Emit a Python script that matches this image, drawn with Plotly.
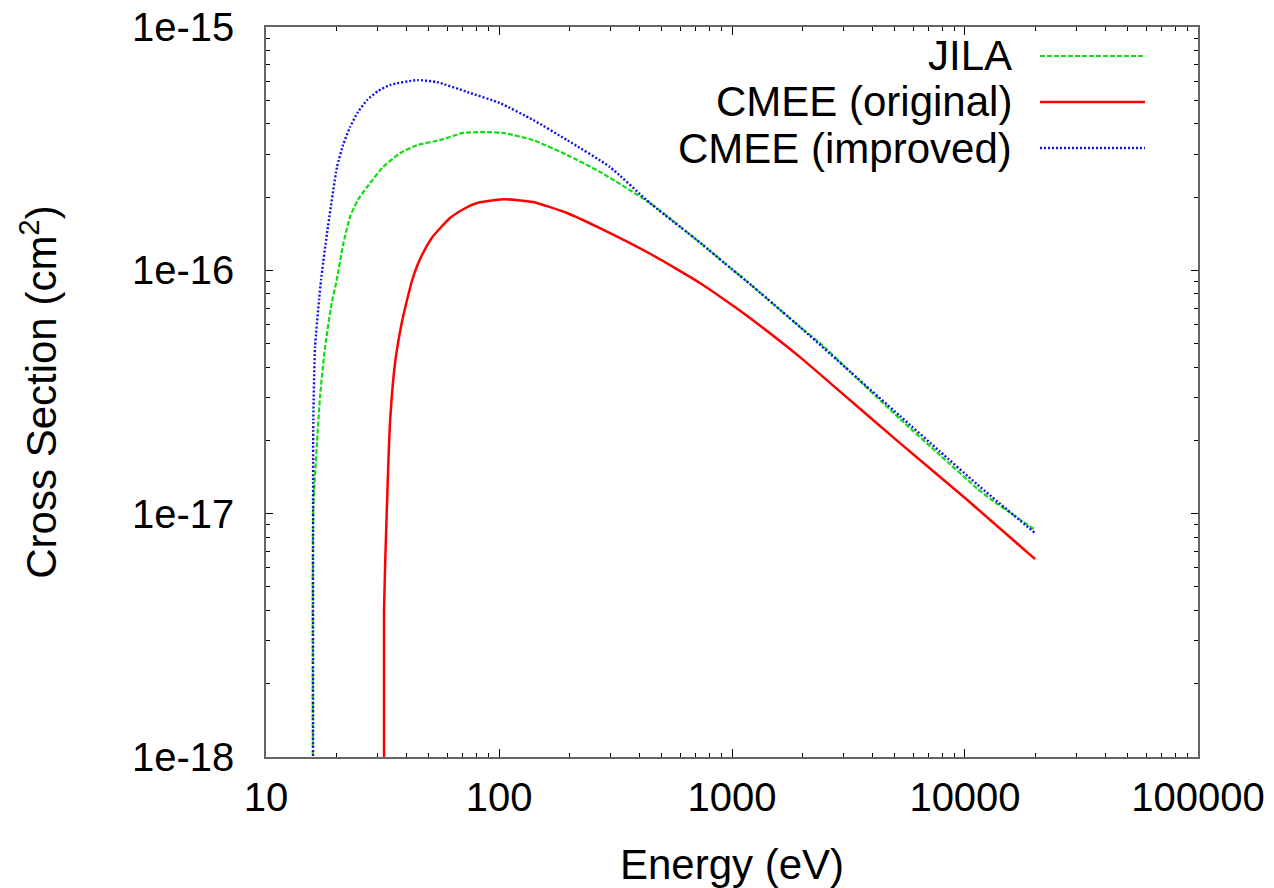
import plotly.graph_objects as go

# ---- data ----
jila_E = [15.96, 15.96, 16.51, 17.05, 17.92, 19.14, 20.11, 21.4, 22.94, 24.8, 27.14, 31.8, 37.6,
          44.46, 55.8, 70.1, 85.4, 104, 140, 196, 271, 445, 729, 1000, 1194, 1958, 2388, 3206,
          5260, 7810, 11270, 13000, 20000]
jila_s = [1e-19, 1.06e-17, 1.88e-17, 3.02e-17, 4.84e-17, 7.34e-17, 9.12e-17, 1.27e-16, 1.66e-16,
          1.95e-16, 2.20e-16, 2.66e-16, 3.03e-16, 3.27e-16, 3.43e-16, 3.67e-16, 3.70e-16,
          3.67e-16, 3.43e-16, 2.98e-16, 2.54e-16, 1.89e-16, 1.30e-16, 1.01e-16, 8.79e-17,
          5.85e-17, 5.02e-17, 3.84e-17, 2.45e-17, 1.74e-17, 1.27e-17, 1.14e-17, 8.57e-18]

orig_E = [32.1, 32.1, 32.96, 34.05, 35.8, 38.23, 40.3, 42.3, 44.46, 48.1, 52.1, 61.6, 71.5, 80.5,
          104, 140, 196, 271, 445, 729, 1000, 1194, 1958, 3206, 5260, 10000, 20000]
orig_s = [1e-19, 4.02e-18, 1.006e-17, 2.36e-17, 4.16e-17, 6.07e-17, 7.55e-17, 9.04e-17, 1.04e-16,
          1.22e-16, 1.38e-16, 1.64e-16, 1.80e-16, 1.89e-16, 1.96e-16, 1.91e-16, 1.72e-16,
          1.49e-16, 1.17e-16, 8.87e-17, 7.2e-17, 6.37e-17, 4.40e-17, 2.93e-17, 1.95e-17,
          1.16e-17, 6.50e-18]

impr_E = [15.96, 15.96, 16.23, 16.9, 17.22, 18.27, 20.17, 21.4, 22.94, 24.8, 27.14, 30.3, 34.05,
          44.46, 54.2, 72.9, 100.9, 140, 196, 299, 445, 729, 1000, 1194, 1958, 3206, 5260, 7810,
          11270, 20000]
impr_s = [1e-19, 2.43e-17, 4.84e-17, 7.6e-17, 9.12e-17, 1.42e-16, 2.66e-16, 3.27e-16, 3.88e-16,
          4.47e-16, 5.01e-16, 5.46e-16, 5.78e-16, 6.05e-16, 5.94e-16, 5.41e-16, 4.87e-16,
          4.15e-16, 3.43e-16, 2.66e-16, 1.89e-16, 1.30e-16, 1.01e-16, 8.79e-17, 5.85e-17,
          3.84e-17, 2.52e-17, 1.80e-17, 1.32e-17, 8.32e-18]

names = ["JILA", "CMEE (original)", "CMEE (improved)"]
x_tickvals = [10, 100, 1000, 10000, 100000]
x_ticktext = ["10", "100", "1000", "10000", "100000"]
y_tickvals = [1e-18, 1e-17, 1e-16, 1e-15]
y_ticktext = ["1e-18", "1e-17", "1e-16", "1e-15"]

GREEN = "#11dd11"
RED = "#ff0000"
BLUE = "#1111ee"
FONT = "Liberation Sans, Arial, Helvetica, sans-serif"

x_minor = [m * 10 ** k for k in range(1, 5) for m in range(2, 10)]
y_minor = [m * 10.0 ** k for k in range(-18, -15) for m in range(2, 10)]

fig = go.Figure()
fig.add_trace(go.Scatter(x=jila_E, y=jila_s, mode="lines", name=names[0],
                         line=dict(color=GREEN, width=2.2, dash="5px,2px", shape="spline",
                                   smoothing=0.5)))
fig.add_trace(go.Scatter(x=orig_E, y=orig_s, mode="lines", name=names[1],
                         line=dict(color=RED, width=2.5, shape="spline", smoothing=0.5)))
fig.add_trace(go.Scatter(x=impr_E, y=impr_s, mode="lines", name=names[2],
                         line=dict(color=BLUE, width=2.4, dash="2px,2px", shape="spline",
                                   smoothing=0.5)))

axis_common = dict(
    showline=True, linecolor="#666666", linewidth=1.5, mirror="allticks",
    ticks="inside", tickcolor="black", showgrid=False, zeroline=False,
    ticklabeloverflow="allow",
    tickfont=dict(family=FONT, size=40, color="black"),
)

fig.update_xaxes(type="log", range=[0.9999, 5.0001], tickmode="array", tickvals=x_tickvals,
                 ticktext=x_ticktext, ticklen=8, tickwidth=1.2,
                 ticklabelstandoff=4,
                 minor=dict(tickmode="array", tickvals=x_minor, ticks="inside",
                            ticklen=4, tickcolor="black", tickwidth=1, showgrid=False),
                 title=dict(text="Energy (eV)", font=dict(family=FONT, size=42, color="black"),
                            standoff=39),
                 **axis_common)
fig.update_yaxes(type="log", range=[-18.0001, -14.9999], tickmode="array", tickvals=y_tickvals,
                 ticktext=y_ticktext, ticklen=7, tickwidth=1.2,
                 ticklabelstandoff=22,
                 minor=dict(tickmode="array", tickvals=y_minor, ticks="inside",
                            ticklen=4, tickcolor="black", tickwidth=1, showgrid=False),
                 title=dict(text="Cross Section (cm<sup>2</sup>)",
                            font=dict(family=FONT, size=42, color="black"), standoff=62),
                 **axis_common)

# gnuplot-style key: right-aligned text, sample line to the right
legend_y = [0.9603, 0.8973, 0.8342]
styles = [dict(color=GREEN, width=2.2, dash="5px,2px"), dict(color=RED, width=2.5),
          dict(color=BLUE, width=2.4, dash="2px,2px")]
for nm, yy, st in zip(names, legend_y, styles):
    fig.add_annotation(x=0.8025, y=yy, xref="paper", yref="paper", text=nm,
                       showarrow=False, xanchor="right", yanchor="middle",
                       font=dict(family=FONT, size=42, color="black"))
    fig.add_shape(type="line", xref="paper", yref="paper", x0=0.8305, x1=0.9431,
                  y0=yy, y1=yy, line=st)

fig.update_layout(
    width=1266, height=880,
    margin=dict(l=258, r=76, t=19, b=131, autoexpand=False),
    plot_bgcolor="white", paper_bgcolor="white",
    showlegend=False,
    font=dict(family=FONT, color="black"),
)

fig.write_html("out.html")
